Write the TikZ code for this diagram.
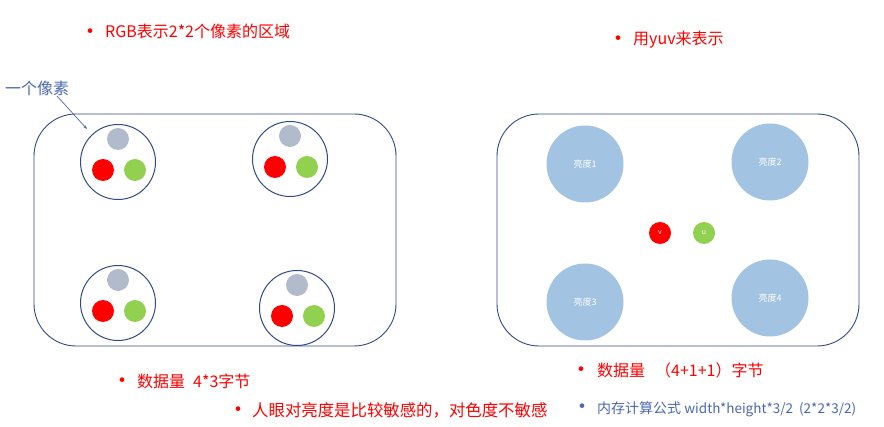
\documentclass[tikz,border=0pt]{standalone}
\usepackage{fontspec}
\setmainfont{Noto Sans CJK SC}
\usetikzlibrary{arrows.meta}
\definecolor{cred}{HTML}{FF0000}
\definecolor{cgreen}{HTML}{92D050}
\definecolor{cgray}{HTML}{B2BBCB}
\definecolor{cluma}{HTML}{A2C4E2}
\definecolor{cline}{HTML}{2F4A85}
\definecolor{cblue}{HTML}{4A67B0}
\tikzset{
  frame/.style={draw=cline, line width=0.9pt, rounded corners=42pt, inner sep=0pt},
  pixel/.style={circle, draw=cline, line width=1pt, minimum size=75pt, inner sep=0pt},
  dotc/.style={circle, fill=#1, minimum size=22pt, inner sep=0pt},
  luma/.style={circle, fill=cluma, minimum size=77pt, inner sep=0pt, text=white, font=\fontsize{9}{10}\selectfont},
  chroma/.style={circle, fill=#1, minimum size=22pt, inner sep=0pt, text=white, font=\fontsize{7}{8}\selectfont},
  bullet/.style={anchor=west, inner sep=0pt, text=cred, font=\fontsize{16}{18}\selectfont},
}
\newcommand{\bl}[1]{\makebox[#1][l]{\raisebox{-1.5pt}{\fontsize{22}{22}\selectfont•}}}
\begin{document}
\begin{tikzpicture}[x=1pt,y=-1pt]
\useasboundingbox (0,0) rectangle (884,427);
% left frame
\node[frame, minimum width=362pt, minimum height=232pt] (lf) at (215,230) {};
\foreach \n/\x/\y in {p1/118/162, p2/290/159, p3/118/303, p4/297/308}{
  \node[pixel] (\n) at (\x,\y) {};
  \node[dotc=cgray] (\n g) at (\x,\y-23) {};
  \node[dotc=cred] (\n r) at (\x-15,\y+8) {};
  \node[dotc=cgreen] (\n G) at (\x+17,\y+8) {};
}
% right frame
\node[frame, minimum width=362pt, minimum height=232pt] (rf) at (678,230) {};
\node[luma] (l1) at (585,164) {亮度1};
\node[luma] (l2) at (770,162) {亮度2};
\node[luma] (l3) at (585,302) {亮度3};
\node[luma] (l4) at (770,298) {亮度4};
\node[chroma=cred] (v) at (660,233) {v};
\node[chroma=cgreen] (u) at (704,233) {u};
% texts
\node[bullet] (t1) at (79,32) {\bl{26pt}RGB表示2*2个像素的区域};
\node[bullet] (t2) at (607,40) {\bl{26pt}用yuv来表示};
\node[anchor=west, inner sep=0pt, text=cblue, font=\fontsize{16}{18}\selectfont] (t3) at (5,88) {一个像素};
\coordinate (tip) at (87,129);
\draw[cblue, line width=0.7pt, -{Stealth[length=4pt,width=3pt]}] (57,96) -- (tip);
\node[bullet] (t4) at (111,381) {\bl{26pt}数据量\hspace{8pt}4*3字节};
\node[bullet, font=\fontsize{16.4}{18}\selectfont] (t5) at (227,410) {\bl{25pt}人眼对亮度是比较敏感的，对色度不敏感};
\node[bullet] (t6) at (570,370) {\bl{27pt}数据量\hspace{10pt}（4+1+1）字节};
\node[bullet, text=cblue, font=\fontsize{14}{18}\selectfont] (t7) at (571,409) {\bl{26pt}内存计算公式 {\fontsize{13.5}{15}\selectfont width*height*3/2\hspace{6pt}(2*2*3/2)}};
\end{tikzpicture}
\end{document}
